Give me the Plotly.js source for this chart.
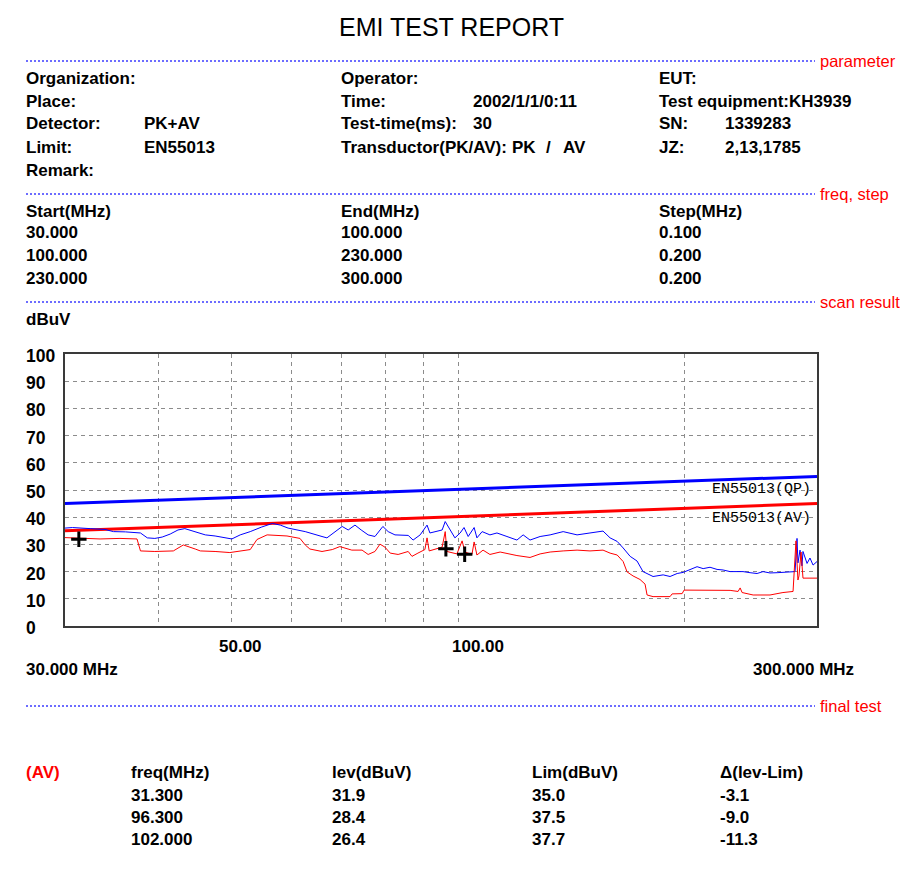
<!DOCTYPE html>
<html>
<head>
<meta charset="utf-8">
<script src="https://cdn.plot.ly/plotly-3.0.1.min.js"></script>
<style>
  html, body { margin: 0; padding: 0; background: #ffffff; }
  #chart { width: 917px; height: 869px; }
</style>
</head>
<body>
<div id="chart"></div>
<script>
// ---------------- DATA ----------------
const freqPK = [30.0, 30.7, 32.4, 33.9, 34.8, 36.1, 37.8, 38.6, 39.5, 40.4, 41.4, 42.4, 43.3, 44.7, 46.1, 47.5, 48.5, 50.0, 51.3, 52.9,
  54.8, 56.6, 58.0, 59.4, 62.6, 64.5, 65.9, 66.9, 68.6, 70.1, 71.4, 72.9, 74.3, 75.9, 77.5, 79.4, 80.7, 82.4, 85.8, 87.1,
  89.0, 90.9, 91.7, 93.7, 95.2, 96.1, 97.5, 99.0, 100.6, 101.8, 103.1, 105.0, 105.9, 107.6, 110.2, 112.6, 116.1, 119.7, 122.0, 124.6,
  128.5, 132.5, 137.9, 143.9, 149.7, 155.8, 159.2, 162.7, 165.7, 169.3, 172.9, 176.1, 181.6, 187.3, 191.3, 195.5, 199.1, 203.4, 207.8, 211.7,
  216.2, 220.9, 225.0, 229.9, 239.2, 244.4, 249.7, 254.3, 259.8, 265.5, 270.3, 276.2, 280.5, 282.2, 283.0, 284.8, 286.5, 287.4, 291.0, 293.6,
  296.4, 300.0];
const levPK = [36.0, 36.2, 35.8, 35.5, 34.7, 34.6, 34.2, 32.4, 32.2, 32.7, 33.8, 35.3, 35.8, 34.7, 33.5, 33.1, 32.7, 32.0, 33.5, 34.7,
  36.4, 37.7, 37.1, 36.0, 34.7, 33.8, 32.9, 32.4, 34.7, 36.6, 35.3, 37.1, 35.3, 33.5, 32.9, 36.6, 34.7, 33.5, 33.3, 31.6,
  33.5, 37.1, 34.2, 34.7, 35.3, 38.4, 35.3, 32.4, 34.2, 36.2, 32.9, 36.2, 32.4, 34.7, 33.5, 34.2, 32.9, 31.6, 33.5, 31.6,
  32.9, 33.5, 34.7, 33.5, 34.2, 34.9, 32.4, 31.1, 28.7, 25.6, 23.9, 20.0, 18.2, 18.8, 18.2, 19.3, 19.7, 20.8, 21.8, 21.1,
  21.6, 20.8, 20.6, 20.0, 20.0, 19.6, 19.3, 20.0, 19.5, 19.6, 19.7, 20.0, 20.0, 32.2, 23.2, 27.9, 22.1, 27.4, 23.0, 25.0,
  22.4, 23.7];

const freqAV = [30.0, 31.4, 33.4, 35.5, 37.4, 37.8, 39.5, 41.8, 43.1, 44.7, 45.4, 47.5, 49.7, 52.9, 54.0, 55.7, 59.2, 61.6, 62.6, 63.5,
  65.9, 68.0, 69.6, 72.2, 74.5, 75.9, 77.5, 78.7, 79.9, 81.2, 83.2, 85.8, 86.8, 88.4, 90.3, 90.9, 91.5, 95.2, 96.1, 96.6,
  99.6, 101.2, 102.1, 104.3, 105.0, 105.9, 107.9, 110.2, 113.7, 119.7, 124.6, 128.5, 132.5, 137.9, 143.9, 149.7, 155.8, 159.2, 162.7, 165.7,
  167.7, 170.8, 174.5, 177.2, 178.3, 181.6, 191.3, 192.5, 198.5, 199.7, 211.7, 223.0, 229.9, 235.6, 237.1, 238.5, 246.7, 259.8, 270.3, 278.8,
  281.3, 282.2, 283.0, 283.9, 285.7, 287.4, 293.6, 300.0];
const levAV = [32.5, 32.4, 32.0, 32.2, 32.0, 27.6, 27.4, 27.6, 29.8, 28.3, 27.6, 27.4, 27.0, 28.1, 31.8, 33.5, 33.1, 32.2, 29.8, 28.3,
  27.4, 28.1, 29.2, 27.9, 27.9, 26.3, 27.4, 30.1, 29.0, 26.8, 26.3, 27.4, 25.6, 26.8, 28.1, 32.4, 27.6, 29.0, 34.7, 27.4,
  26.5, 31.3, 27.2, 26.3, 30.9, 26.1, 27.9, 26.3, 27.2, 25.9, 25.2, 26.5, 27.2, 27.6, 27.9, 27.6, 27.9, 26.8, 26.1, 23.7,
  19.9, 18.4, 17.1, 15.4, 11.4, 10.8, 10.8, 11.8, 11.9, 13.2, 13.2, 13.2, 13.1, 12.7, 14.0, 12.3, 11.4, 11.4, 12.3, 12.7,
  31.3, 23.2, 16.9, 18.4, 27.2, 17.6, 17.6, 17.6];

const limitFreq = [30, 300];
const limitQP = [45, 55];
const limitAVv = [35, 45];
const limitNames = ["EN55013(QP)", "EN55013(AV)"];

const finalFreq = [31.3, 96.3, 102.0];
const finalLev = [31.9, 28.4, 26.4];
const finalLim = [35.0, 37.5, 37.7];
const finalDelta = ["-3.1", "-9.0", "-11.3"];
const finalFreqText = ["31.300", "96.300", "102.000"];

const yTickVals = [0, 10, 20, 30, 40, 50, 60, 70, 80, 90, 100];
const xGridVals = [40, 50, 60, 70, 80, 90, 100, 200];
const xLabelVals = [50, 100];
const xLabelText = ["50.00", "100.00"];

const startMHz = ["30.000", "100.000", "230.000"];
const endMHz = ["100.000", "230.000", "300.000"];
const stepMHz = ["0.100", "0.200", "0.200"];

// ---------------- LAYOUT HELPERS ----------------
const W = 917, H = 869;
const L = 65, R = 817, T = 354, B = 626;
const px = x => (x - L) / (R - L);
const py = y => (B - y) / (B - T);

const FONT = "Liberation Sans, Arial, sans-serif";
const bodyFont = {family: FONT, size: 17, color: "#000000", weight: "bold"};
const annotations = [];
function txt(x, y, text, opts) {
  opts = opts || {};
  annotations.push(Object.assign({
    xref: "paper", yref: "paper", x: px(x - 2), y: py(y), text: text,
    showarrow: false, xanchor: "left", yanchor: "middle",
    font: bodyFont
  }, opts));
}

// Title
txt(453, 27, "EMI TEST REPORT", {xanchor: "center", font: {family: FONT, size: 25, color: "#000"}});

// Parameter block
const c1 = 26, c1b = 144, c2 = 341, c2b = 473, c3 = 659, c3b = 725;
txt(c1, 78, "Organization:"); txt(c2, 78, "Operator:"); txt(c3, 78, "EUT:");
txt(c1, 101, "Place:"); txt(c2, 101, "Time:"); txt(c2b, 101, "2002/1/1/0:11"); txt(c3, 101, "Test equipment:KH3939");
txt(c1, 124, "Detector:"); txt(c1b, 124, "PK+AV"); txt(c2, 124, "Test-time(ms):"); txt(c2b, 124, "30");
txt(c3, 124, "SN:"); txt(c3b, 124, "1339283");
txt(c1, 147, "Limit:"); txt(c1b, 147, "EN55013"); txt(c2, 147, "Transductor(PK/AV):"); txt(512, 147, "PK");
txt(546, 147, "/"); txt(563, 147, "AV"); txt(c3, 147, "JZ:"); txt(c3b, 147, "2,13,1785");
txt(c1, 170, "Remark:");

// freq, step block
txt(c1, 211, "Start(MHz)"); txt(c2, 211, "End(MHz)"); txt(c3, 211, "Step(MHz)");
const rowY = [232, 255, 278];
for (let i = 0; i < startMHz.length; i++) {
  txt(c1, rowY[i], startMHz[i]); txt(c2, rowY[i], endMHz[i]); txt(c3, rowY[i], stepMHz[i]);
}

txt(c1, 319, "dBuV");

// section separators
const sepY = [61, 194, 302, 706];
const sepText = ["parameter", "freq, step", "scan result", "final test"];
const shapes = [];
for (let i = 0; i < sepY.length; i++) {
  shapes.push({type: "line", xref: "paper", yref: "paper", x0: px(26), x1: px(815), y0: py(sepY[i]), y1: py(sepY[i]),
    line: {color: "#3c3cff", width: 1.5, dash: "2px,2px"}});
  txt(820, sepY[i], sepText[i], {font: {family: FONT, size: 16.5, color: "#ff0000"}});
}

// y tick labels (left aligned)
for (const v of yTickVals) {
  annotations.push({xref: "paper", yref: "y", x: px(24), y: v, yshift: -2, text: String(v), showarrow: false,
    xanchor: "left", yanchor: "middle", font: Object.assign({}, bodyFont, {size: 17.5})});
}
// x tick labels
const xLabelShift = [9, 20];
for (let i = 0; i < xLabelVals.length; i++) {
  annotations.push({xref: "x", yref: "paper", x: Math.log10(xLabelVals[i]), y: py(646), xshift: xLabelShift[i],
    text: xLabelText[i], showarrow: false, xanchor: "center", yanchor: "middle", font: bodyFont});
}
txt(26, 669, freqPK[0].toFixed(3) + " MHz");
txt(858, 669, freqPK[freqPK.length - 1].toFixed(3) + " MHz", {xanchor: "right"});

// limit labels
const MONO = "Liberation Mono, Courier New, monospace";
txt(815, 489, limitNames[0], {xanchor: "right", font: {family: MONO, size: 15, color: "#000"}});
txt(815, 518, limitNames[1], {xanchor: "right", font: {family: MONO, size: 15, color: "#000"}});

// final test table
const tc = [26, 131, 332, 532, 720];
txt(tc[0], 772, "(AV)", {font: Object.assign({}, bodyFont, {color: "#ff0000"})});
txt(tc[1], 772, "freq(MHz)"); txt(tc[2], 772, "lev(dBuV)"); txt(tc[3], 772, "Lim(dBuV)"); txt(tc[4], 772, "\u0394(lev-Lim)");
const tRowY = [795, 817, 839];
for (let i = 0; i < finalFreq.length; i++) {
  txt(tc[1], tRowY[i], finalFreqText[i]);
  txt(tc[2], tRowY[i], finalLev[i].toFixed(1));
  txt(tc[3], tRowY[i], finalLim[i].toFixed(1));
  txt(tc[4], tRowY[i], finalDelta[i]);
}

// ---------------- TRACES ----------------
const traces = [
  {x: limitFreq, y: limitQP, mode: "lines", line: {color: "#0000ff", width: 3}, name: limitNames[0]},
  {x: limitFreq, y: limitAVv, mode: "lines", line: {color: "#ff0000", width: 3}, name: limitNames[1]},
  {x: freqPK, y: levPK, mode: "lines", line: {color: "#0000ff", width: 1}, name: "PK"},
  {x: freqAV, y: levAV, mode: "lines", line: {color: "#ff0000", width: 1}, name: "AV"},
  {x: finalFreq, y: finalLev, mode: "markers", marker: {symbol: "cross-thin", size: 11, line: {color: "#000", width: 3}, color: "#000"}, name: "final"}
];

const layout = {
  width: W, height: H,
  margin: {l: L, r: W - R, t: T, b: H - B, pad: 0},
  paper_bgcolor: "#ffffff", plot_bgcolor: "#ffffff",
  showlegend: false,
  xaxis: {
    type: "log", range: [Math.log10(30), Math.log10(300)],
    tickmode: "array", tickvals: xGridVals, showticklabels: false, ticks: "",
    showgrid: true, gridcolor: "#8c8c8c", gridwidth: 1, griddash: "4px,4px",
    showline: true, mirror: true, linecolor: "#3a3a3a", linewidth: 2, zeroline: false, fixedrange: true
  },
  yaxis: {
    range: [0, 100], tickmode: "array", tickvals: yTickVals, showticklabels: false, ticks: "",
    showgrid: true, gridcolor: "#8c8c8c", gridwidth: 1, griddash: "4px,4px",
    showline: true, mirror: true, linecolor: "#3a3a3a", linewidth: 2, zeroline: false, fixedrange: true
  },
  annotations: annotations,
  shapes: shapes
};

Plotly.newPlot("chart", traces, layout, {displayModeBar: false, staticPlot: true});
</script>
</body>
</html>
